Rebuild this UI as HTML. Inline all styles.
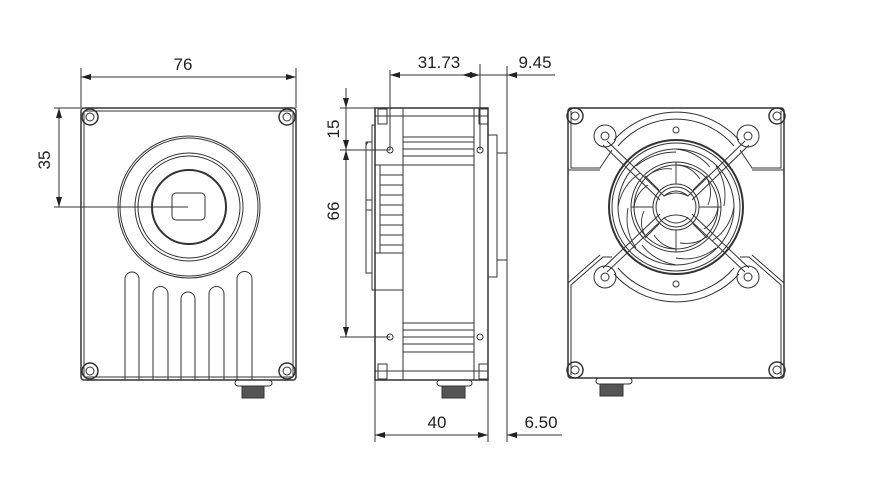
<!DOCTYPE html>
<html><head><meta charset="utf-8"><style>
html,body{margin:0;padding:0;background:#fff;}
svg{display:block;}
text{font-family:"Liberation Sans Narrow","Liberation Sans",sans-serif;font-size:17px;fill:#222;}
</style></head><body>
<svg width="877" height="489" viewBox="0 0 877 489" xmlns="http://www.w3.org/2000/svg">
<defs>
<marker id="a" viewBox="0 0 10 6" refX="10" refY="3" markerWidth="10" markerHeight="6" orient="auto-start-reverse" markerUnits="userSpaceOnUse"><path d="M0,0L10,3L0,6z" fill="#222"/></marker>
</defs>
<g fill="none" stroke="#333" stroke-width="1">
<!-- FRONT VIEW -->
<rect x="81" y="108" width="215" height="272" rx="3" stroke-width="1.5"/>
<rect x="84" y="111" width="209" height="266" rx="2"/>
<g>
<circle cx="90" cy="117" r="8" stroke-width="1.5"/><circle cx="90" cy="117" r="4"/>
<circle cx="287" cy="117" r="8" stroke-width="1.5"/><circle cx="287" cy="117" r="4"/>
<circle cx="90" cy="371" r="8" stroke-width="1.5"/><circle cx="90" cy="371" r="4"/>
<circle cx="287" cy="371" r="8" stroke-width="1.5"/><circle cx="287" cy="371" r="4"/>
</g>
<circle cx="189" cy="207" r="71"/><circle cx="189" cy="207" r="69"/>
<circle cx="189" cy="207" r="54"/><circle cx="189" cy="207" r="51"/>
<circle cx="189" cy="207" r="37" stroke-width="2"/>
<rect x="172" y="193" width="33" height="27" rx="4"/>
<path d="M125,380V279a7,7 0 0 1 14,0V380"/>
<path d="M153,380V294a7.5,7.5 0 0 1 15,0V380"/>
<path d="M181,380V299a7,7 0 0 1 14,0V380"/>
<path d="M209,380V294a7.5,7.5 0 0 1 15,0V380"/>
<path d="M237,380V279a7.5,7.5 0 0 1 15,0V380"/>
<rect x="235" y="380" width="37" height="6" rx="3"/>
<rect x="242" y="386" width="22" height="12" fill="#555"/>
<!-- front dims -->
<path d="M81,68V108M296,68V108"/>
<path d="M81,77H296" marker-start="url(#a)" marker-end="url(#a)"/>
<path d="M54,108H81M54,207H188"/>
<path d="M59,108V207" marker-start="url(#a)" marker-end="url(#a)"/>

<!-- SIDE VIEW -->
<rect x="375" y="108" width="113" height="272" stroke-width="1.5"/>
<path d="M403,108V380M474,108V380M375,116H488M375,371H488"/>
<rect x="378" y="109" width="9" height="15"/><rect x="479" y="109" width="9" height="15"/>
<rect x="378" y="364" width="9" height="15"/><rect x="479" y="364" width="9" height="15"/>
<path d="M403,137H474M403,142H474M403,149H474M403,156H474M403,165H474"/>
<path d="M403,323H474M403,330H474M403,337H474M403,344H474M403,352H474"/>
<circle cx="390" cy="150" r="3"/><circle cx="480" cy="150" r="3"/>
<circle cx="390" cy="337" r="3"/><circle cx="480" cy="337" r="3"/>
<path d="M375,125H372V290H375"/>
<path d="M372,142H366V273H372M366,145L368,142"/>
<path d="M366,200H372M366,210H372"/>
<path d="M375,165H403V253H375M375,253V290H403M380,165V253"/>
<path d="M380,175H403M380,185H403M380,195H403M380,205H403M380,215H403M380,225H403M380,235H403M380,245H403"/>
<path d="M488,135H497V277H488"/>
<path d="M497,153H507V260H497"/>
<rect x="437" y="380" width="35" height="6" rx="3"/>
<rect x="442" y="386" width="23" height="12" fill="#555"/>
<!-- side dims -->
<path d="M390,70V150M480,64V150M507,66V442"/>
<path d="M390,75H480" marker-start="url(#a)" marker-end="url(#a)"/>
<path d="M480,75H462" marker-end="url(#a)"/>
<path d="M555,75H507" marker-end="url(#a)"/>
<path d="M480,75H507"/>
<path d="M340,108H375M340,150H390M340,337H390"/>
<path d="M346,88V108" marker-end="url(#a)"/>
<path d="M346,108V150" marker-end="url(#a)"/>
<path d="M346,150V337" marker-start="url(#a)" marker-end="url(#a)"/>
<path d="M375,380V442M488,380V442"/>
<path d="M375,435H488" marker-start="url(#a)" marker-end="url(#a)"/>
<path d="M562,435H507" marker-end="url(#a)"/>

<!-- BACK VIEW -->
<rect x="568" y="108" width="216" height="270" rx="3" stroke-width="1.5"/>
<path d="M571,111V168H600L612,150"/>
<path d="M781,111V168H752L740,150"/>
<path d="M571,375V285L603,257H612"/>
<path d="M781,375V285L749,257H740"/>
<path d="M568,170H600M784,170H752M568,283L600,255M784,283L752,255"/>
<g>
<circle cx="575" cy="116" r="8" stroke-width="1.5"/><circle cx="575" cy="116" r="4"/>
<circle cx="777" cy="116" r="8" stroke-width="1.5"/><circle cx="777" cy="116" r="4"/>
<circle cx="575" cy="370" r="8" stroke-width="1.5"/><circle cx="575" cy="370" r="4"/>
<circle cx="777" cy="370" r="8" stroke-width="1.5"/><circle cx="777" cy="370" r="4"/>
</g>
<circle cx="605" cy="136" r="11"/><circle cx="605" cy="136" r="4"/>
<circle cx="748" cy="136" r="11"/><circle cx="748" cy="136" r="4"/>
<circle cx="605" cy="277" r="11"/><circle cx="605" cy="277" r="4"/>
<circle cx="748" cy="277" r="11"/><circle cx="748" cy="277" r="4"/>
<circle cx="676" cy="130" r="3"/><circle cx="676" cy="284" r="3"/>
<path d="M614,140A84,84 0 0 1 739,140M614,274A84,84 0 0 0 739,274"/>
<path d="M618,146A76,76 0 0 1 734,146M618,268A76,76 0 0 0 734,268"/>
<circle cx="676" cy="207" r="67" stroke-width="2"/>
<circle cx="676" cy="207" r="64"/>
<circle cx="676" cy="207" r="58"/>
<circle cx="676" cy="207" r="45"/><circle cx="676" cy="207" r="42"/>
<circle cx="676" cy="207" r="23"/><circle cx="676" cy="207" r="20"/>
<g stroke-width="0.9">
<path d="M676,165q14,0 24,14M706,177q8,12 2,28M718,207q-2,14 -14,22M706,237q-10,8 -26,6M676,249q-14,-2 -22,-14M646,237q-8,-12 -2,-26M634,207q2,-14 14,-22M646,177q12,-10 26,-8"/>
<path d="M676,149q20,2 34,18M716,166q12,18 8,40M734,207q-4,22 -22,34M716,248q-18,14 -40,10M676,265q-22,-4 -34,-20M636,248q-12,-18 -8,-40M618,207q4,-22 22,-34M636,166q18,-14 40,-14"/>
<path d="M676,184V162M699,207H721M676,230V252M653,207H631M693,190l14,-14M659,224l-14,14M693,224l14,14M659,190l-14,-14"/>
</g>
<path d="M607,141L664,196Q676,186 688,196L745,141" stroke-width="1"/>
<path d="M603,145L660,200M749,145L692,200"/>
<path d="M607,272L664,218Q676,228 688,218L745,272"/>
<path d="M603,268L660,214M749,268L692,214"/>
<path d="M664,196Q676,190 688,196M664,218Q676,212 688,218"/>
<rect x="596" y="378" width="36" height="6" rx="3"/>
<rect x="600" y="384" width="23" height="12" fill="#555"/>
</g>
<text x="183" y="70" text-anchor="middle">76</text>
<text transform="translate(50,160) rotate(-90)" text-anchor="middle">35</text>
<text x="439" y="68" text-anchor="middle">31.73</text>
<text x="535" y="68" text-anchor="middle">9.45</text>
<text transform="translate(339,129) rotate(-90)" text-anchor="middle">15</text>
<text transform="translate(339,211) rotate(-90)" text-anchor="middle">66</text>
<text x="437" y="428" text-anchor="middle">40</text>
<text x="541" y="428" text-anchor="middle">6.50</text>
</svg>
</body></html>
